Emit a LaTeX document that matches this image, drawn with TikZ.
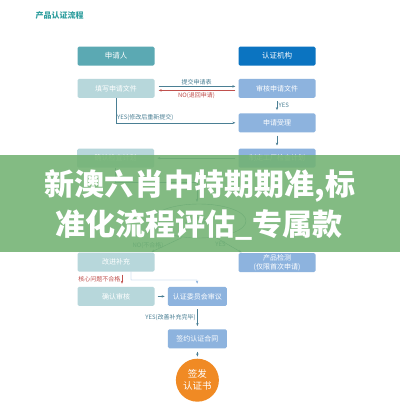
\documentclass[tikz,border=0pt]{standalone}
\usepackage{fontspec}
\setmainfont{Noto Sans CJK SC}
\usepackage{tikz}
\usetikzlibrary{arrows.meta,positioning,shapes.geometric}
\definecolor{tealhead}{HTML}{5BA9B3}
\definecolor{bluehead}{HTML}{0B74C1}
\definecolor{tealsoft}{HTML}{B7D7DB}
\definecolor{bluesoft}{HTML}{8DB3DE}
\definecolor{lineink}{HTML}{4A7F94}
\definecolor{noline}{HTML}{C0504D}
\definecolor{issueorange}{HTML}{F08A24}
\definecolor{titleteal}{HTML}{2E9E9E}
\definecolor{bannergreen}{HTML}{72B272}
\tikzset{
  procbox/.style={rounded corners=1.5pt, inner sep=0pt, minimum width=77pt,
    minimum height=19pt, align=center, text=white, font=\fontsize{7}{8.5}\selectfont},
  applicantbox/.style={procbox, fill=tealsoft},
  agencybox/.style={procbox, fill=bluesoft},
  headbox/.style={procbox, font=\fontsize{7.5}{9}\selectfont},
  flowarrow/.style={-{Stealth[length=3pt,width=2.4pt]}, draw=lineink, thin},
  noarrow/.style={flowarrow, draw=noline},
  lbl/.style={font=\fontsize{6}{7}\selectfont, text=lineink, inner sep=1.5pt},
  nolbl/.style={lbl, text=noline}
}
\begin{document}
\begin{tikzpicture}[x=1pt, y=-1pt, node distance=13pt and 12pt]
  \useasboundingbox (0,0) rectangle (400,413);
  \fill[white] (0,0) rectangle (400,413);
  \node[font=\fontsize{8}{9}\selectfont\bfseries, text=titleteal, anchor=west] (title) at (32,15) {产品认证流程};
  % header row
  \node[headbox, fill=tealhead] (applicant) at (116,56) {申请人};
  \node[headbox, fill=bluehead] (agency) at (277,56) {认证机构};
  % application
  \node[applicantbox, below=of applicant] (fillin) {填写申请文件};
  \node[agencybox, below=of agency] (review) {审核申请文件};
  \node[agencybox, below=15pt of review] (accept) {申请受理};
  \node[agencybox, below=16pt of accept] (plan) {制定工厂检查计划};
  \node[applicantbox, left=84pt of plan] (confirm) {确认检查计划};
  \node[ellipse, draw=lineink, thin, minimum width=94pt, minimum height=34pt,
    font=\fontsize{7}{8.5}\selectfont, text=lineink] (inspect) at (199,221) {工厂检查};
  \node[applicantbox] (improve) at (116,262) {改进补充};
  \node[agencybox] (test) at (277,262.5) {产品检测\\(仅限首次申请)};
  \node[applicantbox, below=15pt of improve] (recheck) {确认审核};
  \node[agencybox, minimum width=59pt, right=13pt of recheck] (committee) {认证委员会审议};
  \node[agencybox, minimum width=59pt, below=23pt of committee] (contract) {签约认证合同};
  \node[circle, fill=issueorange, minimum size=43pt, inner sep=0pt, align=center,
    text=white, font=\fontsize{9.5}{12}\selectfont, below=10pt of contract] (issue) {签发\\认证书};
  % connectors
  \draw[flowarrow, shorten <=4pt, shorten >=3pt] ([yshift=2pt]fillin.east) -- node[lbl, above]{提交申请表} ([yshift=2pt]review.west);
  \draw[noarrow, shorten <=3pt, shorten >=4pt] ([yshift=-2pt]review.west) -- node[nolbl, below]{NO(退回申请)} ([yshift=-2pt]fillin.east);
  \draw[flowarrow, shorten <=3pt, shorten >=3pt] (review) -- node[lbl, right]{YES} (accept);
  \draw[flowarrow, shorten >=3pt] (fillin.south) |- node[lbl, above, pos=0.62]{YES(修改后重新提交)} (accept.west);
  \draw[flowarrow, shorten <=3pt, shorten >=3pt] (accept) -- (plan);
  \draw[flowarrow, shorten <=3pt, shorten >=3pt] (plan) -- (confirm);
  \coordinate (turn) at (197,182);
  \draw[flowarrow, shorten >=2pt] (confirm.south) |- (turn) -- (inspect.north -| turn);
  \draw[flowarrow, shorten <=1pt, shorten >=1pt] (inspect.225) -- node[lbl, left, pos=0.55]{NO(不合格)} ([xshift=-4pt]improve.north east);
  \draw[flowarrow, shorten <=1pt, shorten >=1pt] (inspect.315) -- node[lbl, left, pos=0.45]{YES} ([xshift=4pt]test.north west);
  \draw[noarrow, shorten <=3pt, shorten >=3pt] ([xshift=6pt]improve.south) -- node[nolbl, left]{核心问题不合格} ([xshift=6pt]recheck.north);
  \coordinate (joint) at (197,280);
  \draw[flowarrow, draw=bluesoft, shorten >=3pt] ([xshift=15pt]improve.south) |- (joint) -- (committee.north);
  \draw[flowarrow, shorten <=3pt, shorten >=3pt] (recheck) -- (committee);
  \draw[flowarrow, shorten <=3pt, shorten >=3pt] (committee) -- node[lbl, left]{YES(改善补充完毕)} (contract);
  \draw[flowarrow, shorten <=3pt, shorten >=2pt] (contract) -- (issue);
  % overlay banner
  \fill[bannergreen, opacity=0.88] (0,155) rectangle (400,252);
  \node[font=\fontsize{30}{32}\selectfont\bfseries, text=white] (bannerone) at (200,186) {新澳六肖中特期期准,标};
  \node[font=\fontsize{30}{32}\selectfont\bfseries, text=white] (bannertwo) at (199,225) {准化流程评估\_专属款};
\end{tikzpicture}
\end{document}
